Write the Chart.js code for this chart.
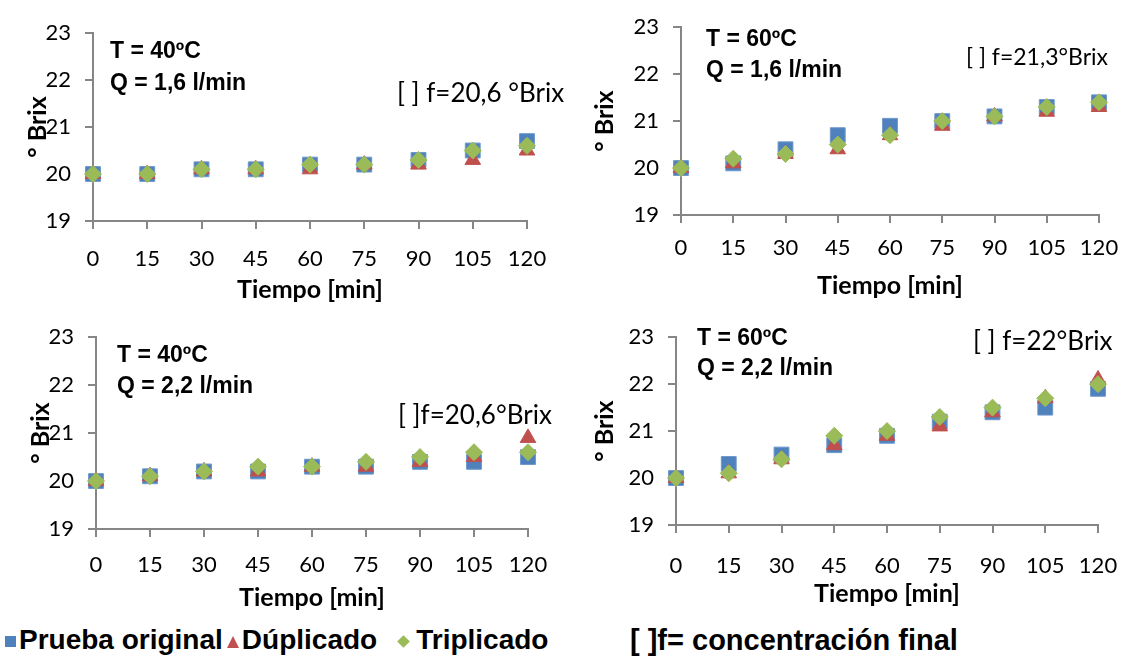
<!DOCTYPE html>
<html>
<head>
<meta charset="utf-8">
<script src="https://cdn.jsdelivr.net/npm/chart.js@4.4.1/dist/chart.umd.min.js"></script>
<style>
  body { margin: 0; background: #fff; width: 1129px; height: 658px; position: relative; overflow: hidden; }
  .box { position: absolute; }
  .txt { position: absolute; white-space: nowrap; color: #000; line-height: 1; }
  .cond { font-family: "Liberation Sans", Arial, sans-serif; font-weight: bold; font-size: 23px; }
  .conc { font-family: Lato, "Open Sans", sans-serif; font-size: 26px; }
  .leg { font-family: "Liberation Sans", Arial, sans-serif; font-weight: bold; font-size: 28px; }
  .mk { display: inline-block; vertical-align: middle; margin-right: 3px; }
</style>
</head>
<body>
<div class="box" style="left:0;top:0;width:560px;height:308px"><canvas id="c1"></canvas></div>
<div class="box" style="left:570px;top:0;width:559px;height:304px"><canvas id="c2"></canvas></div>
<div class="box" style="left:0;top:310px;width:560px;height:306px"><canvas id="c3"></canvas></div>
<div class="box" style="left:570px;top:310px;width:559px;height:302px"><canvas id="c4"></canvas></div>

<div class="txt cond" style="left:110px;top:39px">T = 40ºC</div>
<div class="txt cond" style="left:110px;top:71px">Q = 1,6 l/min</div>
<div class="txt conc" style="left:397px;top:79px">[ ] f=20,6 °Brix</div>

<div class="txt cond" style="left:706px;top:27px">T = 60ºC</div>
<div class="txt cond" style="left:706px;top:58px">Q = 1,6 l/min</div>
<div class="txt conc" style="left:966px;top:45px;font-size:23px">[ ] f=21,3°Brix</div>

<div class="txt cond" style="left:117px;top:343px">T = 40ºC</div>
<div class="txt cond" style="left:117px;top:374px">Q = 2,2 l/min</div>
<div class="txt conc" style="left:398px;top:401px">[ ]f=20,6°Brix</div>

<div class="txt cond" style="left:697px;top:326px">T = 60ºC</div>
<div class="txt cond" style="left:697px;top:356px">Q = 2,2 l/min</div>
<div class="txt conc" style="left:973px;top:327px">[ ] f=22°Brix</div>

<div class="txt leg" style="left:5px;top:626px">
  <span class="mk" style="width:11px;height:11px;background:#4F81BD"></span>Prueba original<span class="mk" style="width:0;height:0;border-left:6px solid transparent;border-right:6px solid transparent;border-bottom:12px solid #C0504D;margin-left:4px"></span>Dúplicado<span class="mk" style="width:9px;height:9px;background:#9BBB59;transform:rotate(45deg);margin-left:22px;margin-right:8px"></span>Triplicado
</div>
<div class="txt leg" style="left:630px;top:626px;font-size:29px">[ ]f= concentración final</div>

<script>
const times = [0, 15, 30, 45, 60, 75, 90, 105, 120];
const yTicks = [19, 20, 21, 22, 23];

// T = 40ºC, Q = 1,6 l/min
const p1Original = [20.0, 20.0, 20.1, 20.1, 20.2, 20.2, 20.3, 20.5, 20.7];
const p1Duplicado = [20.0, 20.0, 20.1, 20.1, 20.1, 20.2, 20.2, 20.3, 20.5];
const p1Triplicado = [20.0, 20.0, 20.1, 20.1, 20.2, 20.2, 20.3, 20.5, 20.6];

// T = 60ºC, Q = 1,6 l/min
const p2Original = [20.0, 20.1, 20.4, 20.7, 20.9, 21.0, 21.1, 21.3, 21.4];
const p2Duplicado = [20.0, 20.1, 20.3, 20.4, 20.7, 20.9, 21.1, 21.2, 21.3];
const p2Triplicado = [20.0, 20.2, 20.3, 20.5, 20.7, 21.0, 21.1, 21.3, 21.4];

// T = 40ºC, Q = 2,2 l/min
const p3Original = [20.0, 20.1, 20.2, 20.2, 20.3, 20.3, 20.4, 20.4, 20.5];
const p3Duplicado = [20.0, 20.1, 20.2, 20.2, 20.3, 20.3, 20.4, 20.5, 20.9];
const p3Triplicado = [20.0, 20.1, 20.2, 20.3, 20.3, 20.4, 20.5, 20.6, 20.6];

// T = 60ºC, Q = 2,2 l/min
const p4Original = [20.0, 20.3, 20.5, 20.7, 20.9, 21.2, 21.4, 21.5, 21.9];
const p4Duplicado = [20.0, 20.1, 20.4, 20.7, 20.9, 21.1, 21.4, 21.7, 22.1];
const p4Triplicado = [20.0, 20.1, 20.4, 20.9, 21.0, 21.3, 21.5, 21.7, 22.0];

const axisGray = "#868686";

function toPoints(vals) {
  return times.map((t, i) => ({ x: t, y: vals[i] }));
}

function makeChart(id, orig, dup, trip, geo) {
  const ctx = document.getElementById(id).getContext("2d");
  return new Chart(ctx, {
    type: "scatter",
    data: {
      datasets: [
        { label: "Prueba original", data: toPoints(orig), pointStyle: "rect", pointRadius: 10.5,
          backgroundColor: "#4F81BD", borderColor: "#6F99CC", borderWidth: 1, order: 2, clip: false },
        { label: "Dúplicado", data: toPoints(dup), pointStyle: "triangle", pointRadius: 9,
          backgroundColor: "#C0504D", borderColor: "#C0504D", borderWidth: 1, order: 1, clip: false },
        { label: "Triplicado", data: toPoints(trip), pointStyle: "rectRot", pointRadius: 8.5,
          backgroundColor: "#9BBB59", borderColor: "#9BBB59", borderWidth: 1, order: 0, clip: false },
      ],
    },
    options: {
      responsive: true,
      maintainAspectRatio: false,
      animation: false,
      layout: { padding: { top: geo.top, right: geo.right, left: 0, bottom: 0 } },
      plugins: { legend: { display: false }, tooltip: { enabled: false } },
      scales: {
        x: {
          type: "linear",
          min: 0,
          max: 120,
          afterFit: (s) => { s.height = geo.xh; s.paddingLeft = 0; s.paddingRight = 0; },
          afterBuildTicks: (s) => { s.ticks = times.map((v) => ({ value: v })); },
          ticks: { color: "#000", font: { family: "Lato", size: 22 }, padding: geo.xpad },
          grid: { drawOnChartArea: false, drawTicks: true, tickLength: 8, color: axisGray, lineWidth: 2 },
          border: { color: axisGray, width: 2 },
          title: { display: true, text: "Tiempo [min]", color: "#000",
            font: { family: "Lato", size: 25, weight: "bold" }, padding: { top: 0, bottom: 3 } },
        },
        y: {
          min: 19,
          max: 23,
          afterFit: (s) => { s.width = geo.yw; },
          afterBuildTicks: (s) => { s.ticks = yTicks.map((v) => ({ value: v })); },
          ticks: { color: "#000", font: { family: "Lato", size: 22 }, padding: 14 },
          grid: { drawOnChartArea: false, drawTicks: true, tickLength: 8, color: axisGray, lineWidth: 2 },
          border: { color: axisGray, width: 2 },
          title: { display: true, text: "° Brix", color: "#000",
            font: { family: "Lato", size: 25, weight: "bold" }, padding: { top: geo.ytp, bottom: 0 } },
        },
      },
    },
  });
}

makeChart("c1", p1Original, p1Duplicado, p1Triplicado, { top: 33, right: 33, xh: 87, yw: 93, xpad: 17, ytp: 23 });
makeChart("c2", p2Original, p2Duplicado, p2Triplicado, { top: 18, right: 30, xh: 89, yw: 111, xpad: 12, ytp: 20 });
makeChart("c3", p3Original, p3Duplicado, p3Triplicado, { top: 26, right: 32, xh: 87, yw: 96, xpad: 15, ytp: 26 });
makeChart("c4", p4Original, p4Duplicado, p4Triplicado, { top: 21, right: 31, xh: 87, yw: 106, xpad: 20, ytp: 20 });
</script>
</body>
</html>
